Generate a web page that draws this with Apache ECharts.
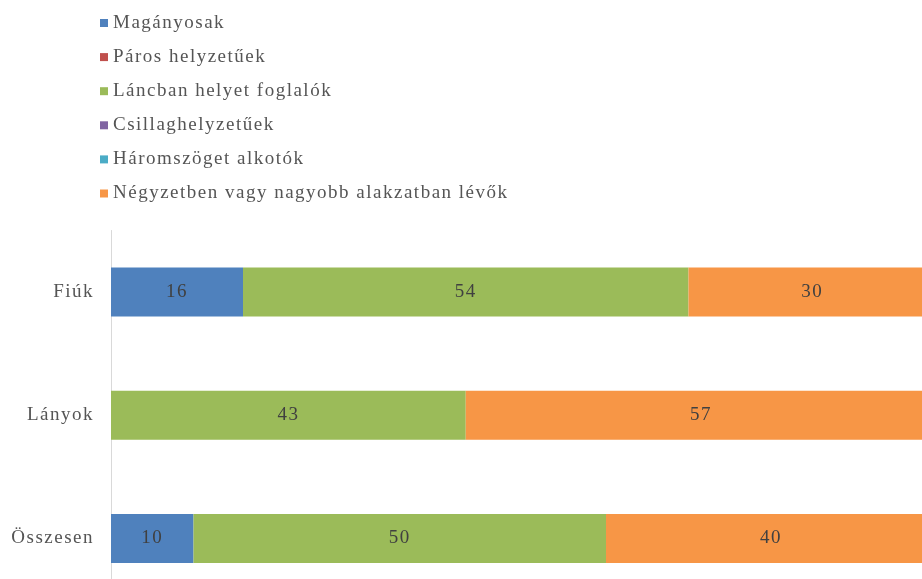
<!DOCTYPE html>
<html><head><meta charset="utf-8">
<script src="https://cdn.jsdelivr.net/npm/echarts@6/dist/echarts.min.js"></script>
<style>
html,body{margin:0;padding:0;background:#fff;overflow:hidden;width:922px;height:579px}
#c{width:936px;height:600px}
</style>
</head><body><div id="c"></div>
<script>
const categories = ['Fiúk', 'Lányok', 'Összesen'];
const seriesNames = ['Magányosak', 'Páros helyzetűek', 'Láncban helyet foglalók', 'Csillaghelyzetűek', 'Háromszöget alkotók', 'Négyzetben vagy nagyobb alakzatban lévők'];
const maganyosak = [16, 0, 10];
const paros = [0, 0, 0];
const lancban = [54, 43, 50];
const csillag = [0, 0, 0];
const haromszog = [0, 0, 0];
const negyzet = [30, 57, 40];
const colors = ['#4F81BD', '#C0504D', '#9BBB59', '#8064A2', '#4BACC6', '#F79646'];

// widen text spacing like the reference's rendering
const origFill = CanvasRenderingContext2D.prototype.fillText;
CanvasRenderingContext2D.prototype.fillText = function () {
  try { this.letterSpacing = '1.5px'; } catch (e) {}
  return origFill.apply(this, arguments);
};

const allData = [maganyosak, paros, lancban, csillag, haromszog, negyzet];
const font = "'Liberation Serif', 'Times New Roman', serif";
const chart = echarts.init(document.getElementById('c'));
chart.setOption({
  animation: false,
  color: colors,
  legend: {
    orient: 'vertical', left: 95, top: 8,
    icon: 'rect', itemWidth: 8, itemHeight: 8, itemGap: 14.1,
    textStyle: { fontFamily: font, fontSize: 19, color: '#555555', lineHeight: 20 },
    data: seriesNames
  },
  grid: { left: 111, right: 0, top: 230.5, bottom: 0, containLabel: false },
  xAxis: { type: 'value', min: 0, max: 100, show: false },
  yAxis: {
    type: 'category', data: categories, inverse: true,
    axisLine: { show: true, lineStyle: { color: '#D9D9D9', width: 1 } },
    axisTick: { show: false },
    axisLabel: { fontFamily: font, fontSize: 19, color: '#555555', margin: 17 }
  },
  series: seriesNames.map((n, i) => ({
    name: n, type: 'bar', stack: 'total', data: allData[i], barWidth: 49,
    label: {
      show: true, position: 'inside', fontFamily: font, fontSize: 19, color: '#404040',
      formatter: p => p.value ? String(p.value) : ''
    }
  }))
});
</script></body></html>
